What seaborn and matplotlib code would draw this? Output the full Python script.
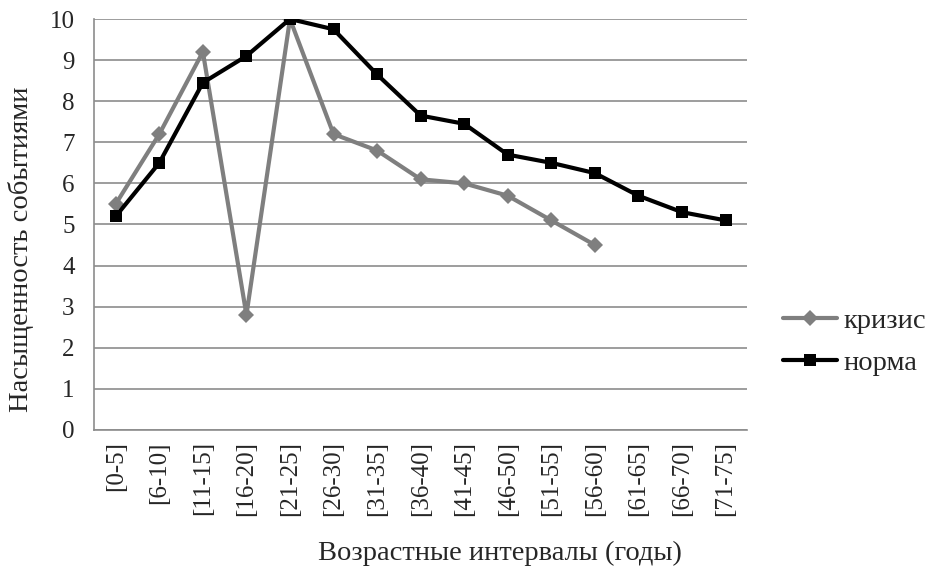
import numpy as np
import pandas as pd
import matplotlib
matplotlib.use("Agg")
import matplotlib.pyplot as plt
import seaborn as sns
from matplotlib.ticker import FixedLocator

intervals = ['[0-5]', '[6-10]', '[11-15]', '[16-20]', '[21-25]', '[26-30]', '[31-35]',
             '[36-40]', '[41-45]', '[46-50]', '[51-55]', '[56-60]', '[61-65]', '[66-70]', '[71-75]']
krizis = [5.5, 7.2, 9.2, 2.8, 10.0, 7.2, 6.8, 6.1, 6.0, 5.7, 5.1, 4.5]
norma = [5.2, 6.5, 8.45, 9.1, 10.0, 9.75, 8.65, 7.65, 7.45, 6.7, 6.5, 6.25, 5.7, 5.3, 5.1]

sns.set_theme(style="white")
plt.rcParams['font.family'] = ['Liberation Serif', 'DejaVu Serif']
plt.rcParams['font.size'] = 18

fig = plt.figure(figsize=(9.26, 5.69), dpi=100)
ax = fig.add_axes([0.1015, 0.2443, 0.7055, 0.7223])

df_k = pd.DataFrame({'pos': np.arange(len(krizis)), 'val': krizis})
df_n = pd.DataFrame({'pos': np.arange(len(norma)), 'val': norma})

grid_c = '#8c8c8c'
for v in range(0, 11):
    ax.axhline(v, color=grid_c, lw=1.2, zorder=0)

sns.lineplot(data=df_k, x='pos', y='val', ax=ax, color='#7f7f7f', lw=3,
             marker='D', markersize=8.5, markeredgewidth=0, label='кризис', zorder=3)
sns.lineplot(data=df_n, x='pos', y='val', ax=ax, color='black', lw=3,
             marker='s', markersize=9, markeredgewidth=0, label='норма', zorder=4)

ax.set_xlim(-0.5, len(intervals) - 0.5)
ax.set_ylim(0, 10)
ax.set_yticks(range(0, 11))
ax.set_xticks(np.arange(len(intervals)))
ax.set_xticklabels(intervals, rotation=90)
ax.xaxis.set_minor_locator(FixedLocator(np.arange(-0.5, len(intervals), 1.0)))
ax.tick_params(axis='x', which='major', length=0, pad=8, labelsize=18)
ax.tick_params(axis='x', which='minor', length=6, color=grid_c, width=1.2, direction='out')
ax.tick_params(axis='y', which='major', length=6, color=grid_c, width=1.2, direction='out',
               labelsize=18, pad=8)

for side in ['top', 'right']:
    ax.spines[side].set_visible(False)
for side in ['left', 'bottom']:
    ax.spines[side].set_color(grid_c)
    ax.spines[side].set_linewidth(1.2)

ax.set_xlabel('Возрастные интервалы (годы)', fontsize=20.5, va='center')
ax.xaxis.set_label_coords(0.621, -0.30)
ax.set_ylabel('Насыщенность событиями', fontsize=20.5, va='center')
ax.yaxis.set_label_coords(-0.112, 0.44)

leg = ax.legend(loc='center left', bbox_to_anchor=(1.055, 0.214), frameon=False,
                fontsize=20.5, handlelength=1.9, handletextpad=0.2, labelspacing=0.55,
                borderaxespad=0.0, borderpad=0.0)

fig.savefig('out.png', dpi=100)
